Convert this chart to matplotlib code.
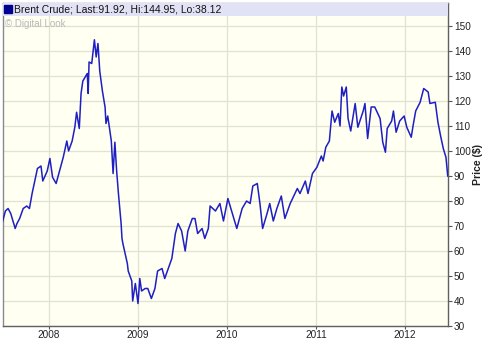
import matplotlib
matplotlib.use("Agg")
import matplotlib.pyplot as plt
import numpy as np

# Brent crude price (decimal year, $)
years = [2007.48, 2007.51, 2007.54, 2007.57, 2007.62, 2007.64, 2007.67, 2007.71, 2007.75, 2007.78,
         2007.81, 2007.84, 2007.87, 2007.91, 2007.93, 2007.98, 2008.01, 2008.04, 2008.08, 2008.11,
         2008.16, 2008.20, 2008.22, 2008.26, 2008.29, 2008.31, 2008.34, 2008.36, 2008.38, 2008.43,
         2008.44, 2008.45, 2008.48, 2008.51, 2008.53, 2008.55, 2008.57, 2008.60, 2008.63, 2008.64,
         2008.66, 2008.70, 2008.72, 2008.74, 2008.76, 2008.78, 2008.81, 2008.82, 2008.83, 2008.88,
         2008.89, 2008.93, 2008.94, 2008.97, 2009.00, 2009.02, 2009.04, 2009.08, 2009.11, 2009.15,
         2009.19, 2009.22, 2009.27, 2009.30, 2009.34, 2009.38, 2009.42, 2009.45, 2009.49, 2009.53,
         2009.56, 2009.61, 2009.64, 2009.67, 2009.72, 2009.75, 2009.79, 2009.81, 2009.87, 2009.92,
         2009.96, 2010.01, 2010.06, 2010.11, 2010.17, 2010.22, 2010.26, 2010.29, 2010.34, 2010.37,
         2010.40, 2010.45, 2010.48, 2010.52, 2010.56, 2010.61, 2010.65, 2010.71, 2010.79, 2010.82,
         2010.88, 2010.91, 2010.96, 2011.01, 2011.06, 2011.08, 2011.11, 2011.15, 2011.18, 2011.21,
         2011.25, 2011.27, 2011.29, 2011.31, 2011.34, 2011.36, 2011.39, 2011.44, 2011.47, 2011.53,
         2011.55, 2011.58, 2011.62, 2011.66, 2011.72, 2011.75, 2011.78, 2011.80, 2011.85, 2011.87,
         2011.90, 2011.94, 2011.99, 2012.02, 2012.07, 2012.09, 2012.12, 2012.17, 2012.21, 2012.26,
         2012.28, 2012.34, 2012.37, 2012.40, 2012.43, 2012.46, 2012.48]
prices = [72, 76, 77, 75, 69, 71, 73, 77, 78, 77,
          83, 88, 93, 94, 88, 92, 97, 89.5, 87, 91,
          97.5, 104, 100, 104, 109.5, 115.5, 109, 123, 128, 131,
          123, 135.6, 135, 144.5, 137.6, 143, 132, 124, 117.5, 111,
          114, 104, 91, 103.5, 92, 83, 71, 65, 63, 55,
          52, 48, 40, 47, 39, 49, 44, 45, 45, 41,
          45, 52, 53, 49, 53, 57, 67, 71, 68, 60,
          68, 73, 73, 67, 69, 65, 69, 78, 76, 79,
          72, 81, 75, 69, 77, 80, 79, 86, 87, 79,
          69, 75, 79, 72, 77, 82, 73, 79, 85, 83,
          88, 83, 91, 93.5, 98, 96, 101.5, 104, 116, 111.5,
          115, 110, 125.6, 122, 125.6, 113, 108, 119, 109.5, 116,
          119, 105, 117.6, 117.6, 113, 103.5, 99.5, 109, 112, 116,
          107.5, 112, 114, 109.5, 105.5, 110, 116, 119.5, 125, 123.6,
          119, 119.5, 111.5, 106, 101, 97.5, 90]

year_ticks = [2008, 2009, 2010, 2011, 2012]
price_ticks = list(range(30, 151, 10))
legend_text = "Brent Crude; Last:91.92, Hi:144.95, Lo:38.12"

plt.rcParams["font.family"] = ["Liberation Sans", "DejaVu Sans"]

fig = plt.figure(figsize=(4.85, 3.4), dpi=100)
ax = fig.add_axes([3 / 485, 1 - 326 / 340, 445 / 485, 323 / 340])
ax.set_facecolor("#fffff2")

ax.set_xlim(2007.483, 2012.483)
ax.set_ylim(30, 159.2)

ax.set_xticks(year_ticks)
ax.set_xticklabels([str(y) for y in year_ticks])
ax.set_yticks(price_ticks)
ax.yaxis.tick_right()
ax.tick_params(axis="both", direction="out", length=3, width=0.8, color="#555555",
               labelsize=7.2, labelcolor="#222222", pad=1.2)
ax.tick_params(axis="x", length=2.5, pad=0.3)
ax.grid(True, color="#e2e2d2", linewidth=0.9)
ax.set_axisbelow(True)

for side, spine in ax.spines.items():
    spine.set_color("#606060" if side in ("right", "bottom") else "#8a8a8a")
    spine.set_linewidth(1.0)

# axis title placed by hand at the far right
fig.text(478 / 485, 1 - 164 / 340, "Price ($)", rotation=90, fontsize=7.5, fontweight="bold",
         ha="center", va="center", color="#222222")

ax.plot(years, prices, color="#1f1fc4", linewidth=1.1, zorder=3)

# legend band across the top
ax.axhspan(153.9, 159.2, color="#e2e2f6", zorder=4, linewidth=0)
ax.plot([2007.535], [156.6], marker="s", markersize=5.2, color="#000090", zorder=5, clip_on=False)
ax.text(2007.605, 156.6, legend_text, fontsize=7.5, va="center", ha="left", color="#111111", zorder=5)
ax.text(2007.505, 150.9, "\u00a9 Digital Look", fontsize=7, va="center", ha="left", color="#b8b8b8", zorder=5)

fig.savefig("out.png", dpi=100)
